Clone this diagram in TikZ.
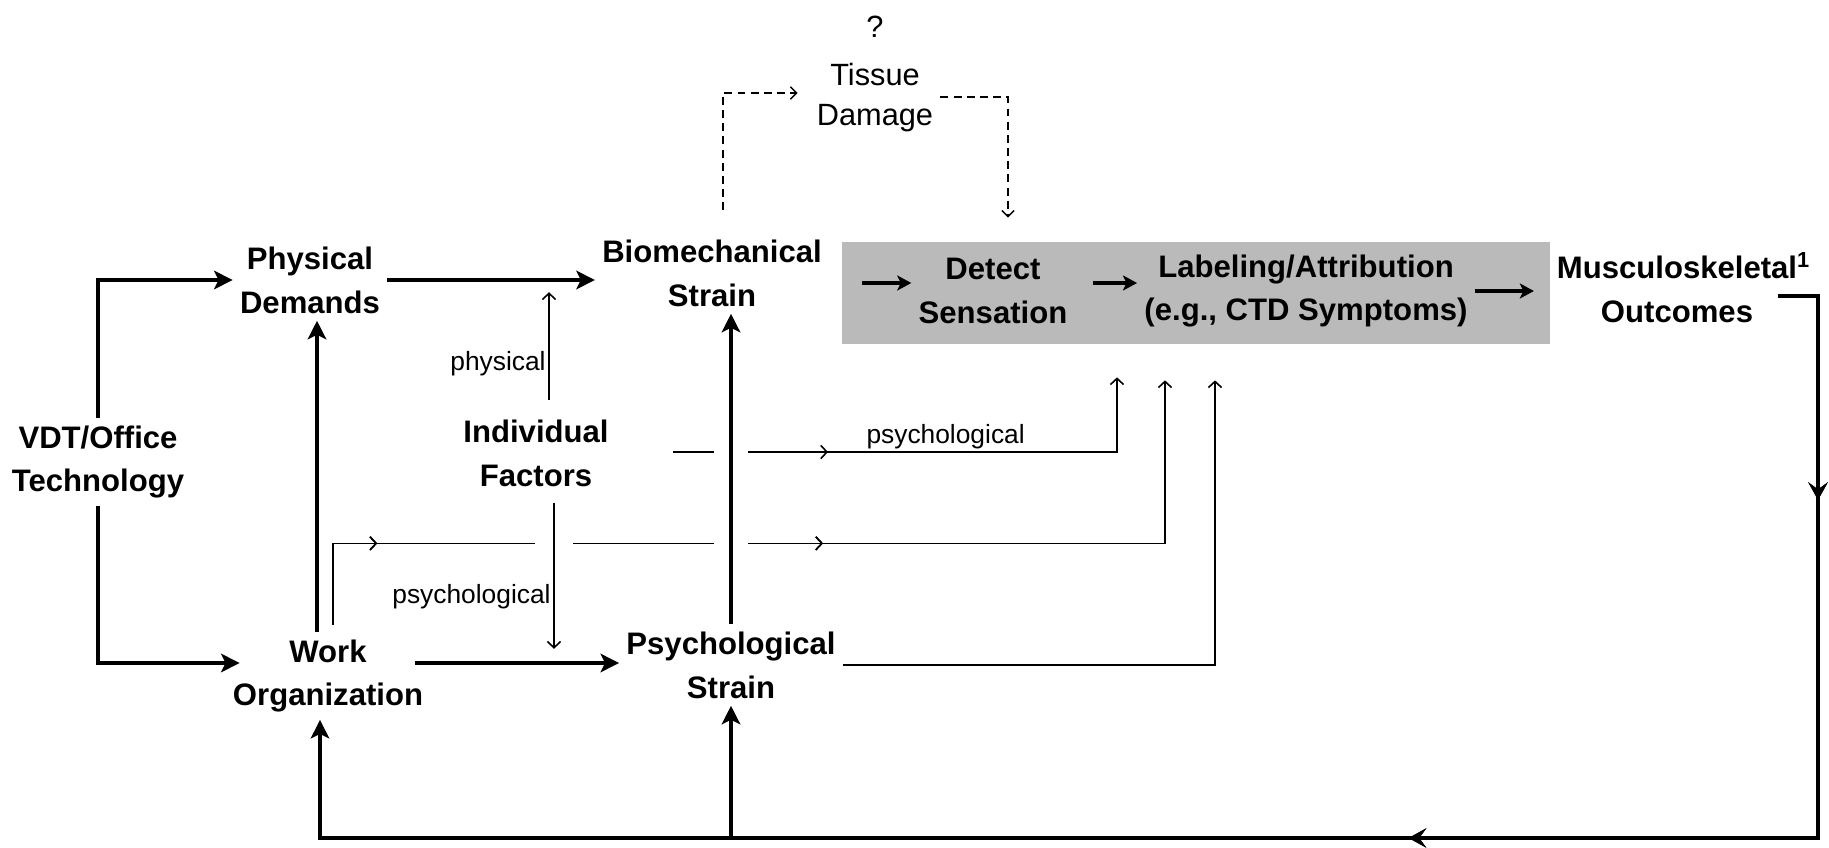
\documentclass[tikz,border=0pt]{standalone}
\usepackage{fontspec}
\setmainfont{Liberation Sans}
\usetikzlibrary{arrows.meta}
\usetikzlibrary{calc, decorations.markings}

\begin{document}
\begin{tikzpicture}[x=0.02cm, y=-0.02cm,
  lbl/.style={align=center, inner sep=4pt, font=\bfseries\fontsize{17.7}{25}\selectfont},
  txt/.style={align=center, inner sep=4pt, font=\fontsize{17.5}{22.8}\selectfont},
  sidelbl/.style={inner sep=1.5pt, font=\fontsize{15}{18}\selectfont},
  heavy/.style={line width=2.5pt, -{Stealth[length=10.5pt,width=10.5pt,inset=2.5pt]}},
  boxarr/.style={line width=2.2pt, -{Stealth[length=8pt,width=8.5pt,inset=2pt]}},
  lite/.style={line width=0.9pt, -{Straight Barb[length=3.5pt,width=7.5pt]}},
  dsh/.style={line width=0.8pt, dash pattern=on 4.5pt off 3pt, -{Straight Barb[length=3.5pt,width=7pt]}},
  crossgap/.style={draw=white, line width=#1},
  midmark/.style={postaction={decorate}, decoration={markings,
    mark=at position #1 with {\arrow{Straight Barb[length=3.5pt,width=7.5pt]}}}},
  loopmark/.style={postaction={decorate}, decoration={markings,
    mark=at position #1 with {\arrow{Stealth[length=10pt,width=11pt,inset=4pt]}}}}
]
\useasboundingbox (0,0) rectangle (1829,848);

\node[lbl] (vdt) at (98,462) {VDT/Office\\Technology};
\node[lbl] (phys) at (310,280) {Physical\\Demands};
\node[lbl] (work) at (328,676) {Work\\Organization};
\node[lbl] (ind) at (536,453) {Individual\\Factors};
\node[lbl] (bio) at (712,273) {Biomechanical\\Strain};
\node[lbl] (psy) at (731,665) {Psychological\\Strain};
\node[txt] (qmark) at (875,27) {?};
\node[txt] (tissue) at (875,98) {Tissue\\Damage};
\node[fill=black!27, minimum width=14.16cm, minimum height=2.04cm, inner sep=0pt] (perc) at (1196,293) {};
\node[lbl] (det) at (993,291) {Detect\\Sensation};
\node[lbl] (lab) at (1306,291) {Labeling/Attribution\\(e.g., CTD Symptoms)};
\node[lbl] (mus) at (1677,288) {Musculoskeletal\rlap{\textsuperscript{1}}\\Outcomes};

\coordinate (wup) at ($(work.north)+(-11,0)$);
\coordinate (wright) at ($(work.east)+(-15,-13)$);
\coordinate (wdown) at ($(work.south)+(-8,0)$);
\coordinate (wout) at ($(work.north)+(5,-7)$);
\coordinate (indout) at ($(ind.east)+(57,-1)$);
\coordinate (indup) at ($(ind.north)+(13,-12)$);
\coordinate (inddown) at ($(ind.south)+(18,9)$);
\coordinate (pin) at ($(perc.west)+(20,-10)$);
\coordinate (dout) at ($(det.east)+(18,-8)$);
\coordinate (lout) at ($(lab.east)+(59,0)$);
\coordinate (fb) at (1778,296);
\coordinate (fbcorner) at (1818,838);

\draw[heavy] (vdt.north) |- (phys.west);
\draw[heavy] (vdt.south) |- ($(work.west)+(14,-13)$);
\draw[heavy] (phys.east) -- (phys.east -| bio.west);
\draw[heavy] (wup) -- (wup |- phys.south);
\draw[heavy] (wright) -- (wright -| psy.west);

\draw[lite, midmark=0.299] (indout) -| ($(perc.south)+(-79,33)$)
  node[sidelbl, pos=0.307, above] {psychological};
\draw[lite, midmark=0.117, midmark=0.531] (wout) |- ($(perc.south)+(-31,199)$) -- ($(perc.south)+(-31,36)$);
\draw[lite] (psy.east) -| ($(perc.south)+(19,36)$);

\draw[crossgap=19pt] (psy.north) -- (psy.north |- bio.south);
\draw[crossgap=22pt] (inddown) -- ++(0,146);

\draw[heavy] (psy.north) -- (psy.north |- bio.south);
\draw[lite] (indup) -- ++(0,-108) node[sidelbl, pos=0.34, left] {physical};
\draw[lite] (inddown) -- ++(0,146) node[sidelbl, pos=0.64, left] {psychological};

\draw[dsh] ($(bio.north)+(11,-22)$) |- ($(tissue.west)+(-12,-5)$);
\draw[dsh] ($(tissue.east)+(0,-1)$) -| ($(perc.north)+(-188,-24)$);

\draw[boxarr] (pin) -- (pin -| det.west);
\draw[boxarr] (dout) -- (dout -| lab.west);
\draw[boxarr] (lab.east) -- (lout);

\draw[heavy, loopmark=0.111, loopmark=0.451] (fb) -| (fbcorner) -| (wdown);
\draw[heavy] (psy.south |- fbcorner) -- (psy.south);

\end{tikzpicture}
\end{document}
